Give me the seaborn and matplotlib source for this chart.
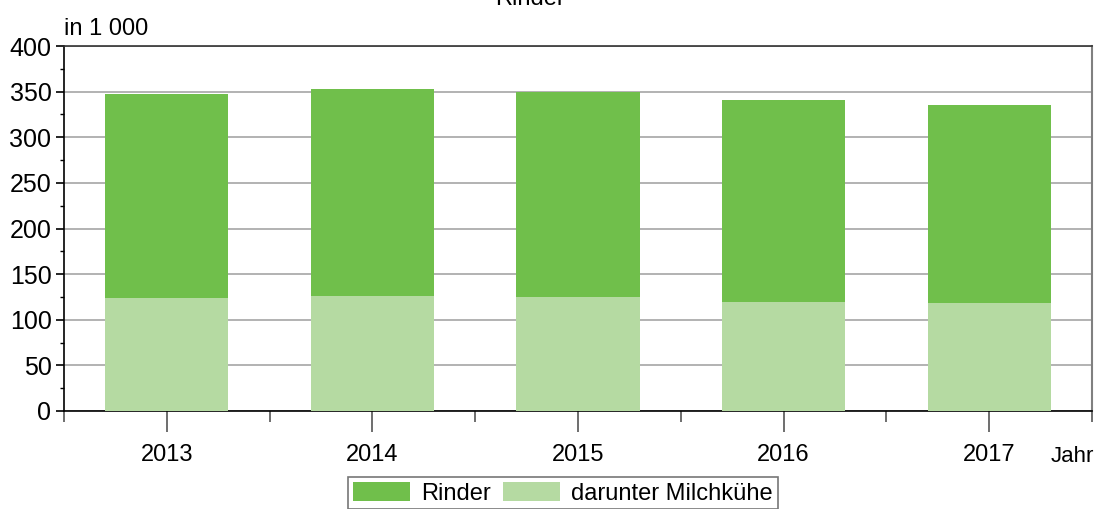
import pandas as pd
import seaborn as sns
import matplotlib.pyplot as plt
from matplotlib.ticker import MultipleLocator, FixedLocator
from matplotlib.patches import Patch

# Values (in 1 000)
jahre = ['2013', '2014', '2015', '2016', '2017']
rinder = [347.5, 353, 349.5, 341, 335.5]
milchkuehe = [124, 126, 125, 119.5, 118.5]

dunkelgruen = '#70BF4B'
hellgruen = '#B5DAA2'

df = pd.DataFrame({'Jahr': jahre, 'Rinder': rinder, 'Milchkuehe': milchkuehe})

sns.set_style('white')
plt.rcParams['font.family'] = ['Liberation Sans', 'DejaVu Sans']
plt.rcParams['text.color'] = 'black'
plt.rcParams['xtick.labelcolor'] = 'black'
plt.rcParams['ytick.labelcolor'] = 'black'

fig = plt.figure(figsize=(11.02, 5.09), dpi=100)
ax = fig.add_axes([64 / 1102, 98 / 509, 1028 / 1102, 365 / 509])

# total herd first, dairy cows drawn over it (they are a subset)
sns.barplot(data=df, x='Jahr', y='Rinder', color=dunkelgruen, width=0.6,
            saturation=1, linewidth=0, ax=ax, zorder=2)
sns.barplot(data=df, x='Jahr', y='Milchkuehe', color=hellgruen, width=0.6,
            saturation=1, linewidth=0, ax=ax, zorder=3)

ax.set_xlim(-0.5, len(jahre) - 0.5)
ax.set_ylim(0, 400)
ax.set_xlabel('')
ax.set_ylabel('')

# grid and spines
ax.yaxis.set_major_locator(MultipleLocator(50))
ax.yaxis.set_minor_locator(MultipleLocator(25))
ax.grid(axis='y', which='major', color='#A6A6A6', linewidth=1.2, zorder=0)
ax.set_axisbelow(True)
for s in ['left', 'bottom']:
    ax.spines[s].set_color('black')
    ax.spines[s].set_linewidth(1.2)
ax.spines['top'].set_color('#333333')
ax.spines['top'].set_linewidth(1.2)
ax.spines['right'].set_color('#808080')
ax.spines['right'].set_linewidth(1.5)

ax.xaxis.set_minor_locator(FixedLocator([i - 0.5 for i in range(len(jahre) + 1)]))
ax.tick_params(axis='x', which='major', direction='out', length=15, width=1.2,
               color='#555555', labelsize=17, pad=9, bottom=True)
ax.tick_params(axis='x', which='minor', direction='out', length=8, width=1.2,
               color='#555555', bottom=True)
ax.tick_params(axis='y', which='major', direction='out', length=6, width=1.2,
               color='black', labelsize=18, pad=3, left=True)
ax.tick_params(axis='y', which='minor', direction='out', length=3, width=1,
               color='black', left=True)

# texts
fig.text(530 / 1102, 1 - 5 / 509, 'Rinder', ha='center', va='baseline', fontsize=17)
fig.text(64 / 1102, 1 - 35 / 509, 'in 1 000', ha='left', va='baseline', fontsize=17)
fig.text(1051 / 1102, 1 - 462 / 509, 'Jahr', ha='left', va='baseline', fontsize=16)

handles = [Patch(facecolor=dunkelgruen, edgecolor='none', label='Rinder'),
           Patch(facecolor=hellgruen, edgecolor='none', label='darunter Milchkühe')]
leg = fig.legend(handles=handles, loc='upper center', ncol=2,
                 bbox_to_anchor=(563 / 1102, 1 - 477 / 509), fontsize=17,
                 frameon=True, fancybox=False, handlelength=2.4, handleheight=0.9,
                 handletextpad=0.5, columnspacing=0.5, borderpad=0.2,
                 borderaxespad=0)
leg.get_frame().set_edgecolor('#555555')
leg.get_frame().set_linewidth(1.2)

fig.savefig('out.png', dpi=100)
